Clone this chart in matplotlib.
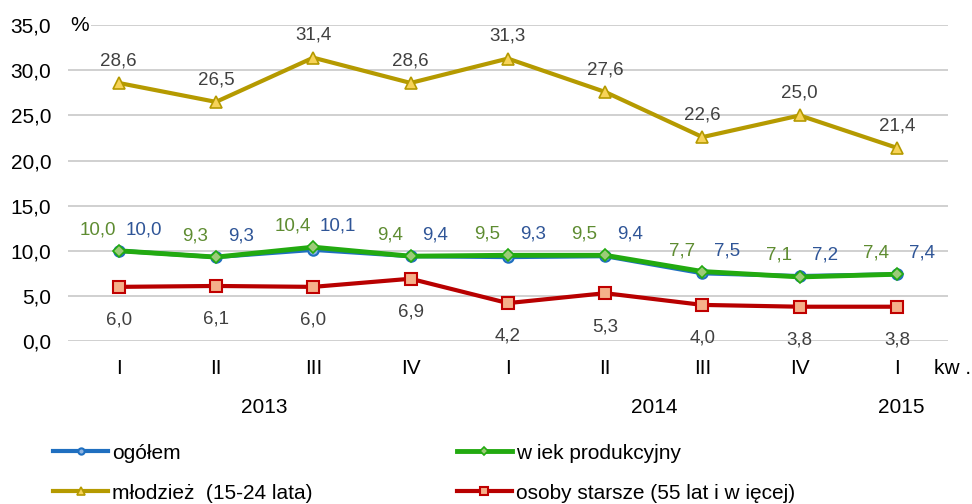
import matplotlib
matplotlib.use("Agg")
import matplotlib.pyplot as plt
from matplotlib.ticker import FuncFormatter

plt.rcParams['font.family'] = ['Liberation Sans', 'DejaVu Sans']

quarters = ["I", "II", "III", "IV", "I", "II", "III", "IV", "I"]
years = ["2013", "2014", "2015"]
ogolem = [10.0, 9.3, 10.1, 9.4, 9.3, 9.4, 7.5, 7.2, 7.4]
wiek_prod = [10.0, 9.3, 10.4, 9.4, 9.5, 9.5, 7.7, 7.1, 7.4]
mlodziez = [28.6, 26.5, 31.4, 28.6, 31.3, 27.6, 22.6, 25.0, 21.4]
starsze = [6.0, 6.1, 6.0, 6.9, 4.2, 5.3, 4.0, 3.8, 3.8]

def pl(v):
    return f"{v:.1f}".replace(".", ",")

fig = plt.figure(figsize=(9.72, 5.04), dpi=100)
ax = fig.add_axes([0.07, 0.3234, 0.905, 0.6266])
x = list(range(len(quarters)))

l_ml, = ax.plot(x, mlodziez, color="#B59A00", lw=3, marker="^", ms=9,
                mfc="#F7D358", mec="#B59A00", mew=1.2, label="młodzież  (15-24 lata)", zorder=3)
l_og, = ax.plot(x, ogolem, color="#1F6FC0", lw=3, marker="o", ms=7.5,
                mfc="#8DB4E2", mec="#1F6FC0", mew=1.5, label="ogółem", zorder=3)
l_wp, = ax.plot(x, wiek_prod, color="#22AA10", lw=3.5, marker="D", ms=6.5,
                mfc="#9CCB78", mec="#22AA10", mew=1.2, label="w iek produkcyjny", zorder=4)
l_st, = ax.plot(x, starsze, color="#B80000", lw=3, marker="s", ms=8.5,
                mfc="#F5B08A", mec="#C00000", mew=1.5, label="osoby starsze (55 lat i w ięcej)", zorder=3)

lab_kw = dict(fontsize=13.5, ha="center", va="center", textcoords="offset points")
for i in x:
    top = max(wiek_prod[i], ogolem[i])
    ax.annotate(pl(mlodziez[i]), (i, mlodziez[i]), xytext=(0, 16), color="#404040", **lab_kw)
    ax.annotate(pl(wiek_prod[i]), (i, top), xytext=(-15, 15), color="#5E8C31", **lab_kw)
    ax.annotate(pl(ogolem[i]), (i, top), xytext=(18, 15), color="#2F5597", **lab_kw)
    ax.annotate(pl(starsze[i]), (i, starsze[i]), xytext=(0, -24), color="#404040", **lab_kw)

ax.set_xlim(-0.52, 8.52)
ax.set_ylim(0, 35)
ax.set_yticks([0, 5, 10, 15, 20, 25, 30, 35])
ax.yaxis.set_major_formatter(FuncFormatter(lambda v, p: pl(v)))
ax.set_xticks(x)
ax.set_xticklabels(quarters)
ax.tick_params(axis="both", length=0, labelsize=15, colors="#000000")
ax.tick_params(axis="x", pad=13)
ax.tick_params(axis="y", pad=12)
ax.grid(axis="y", color="#C8C8C8", lw=1.2)
ax.set_axisbelow(True)
for s in ax.spines.values():
    s.set_visible(False)

ax.text(-0.5, 35, "%", fontsize=15, ha="left", va="center",
        bbox=dict(fc="white", ec="none", pad=2))
ax.text(8.38, -0.088, "kw .", transform=ax.get_xaxis_transform(), fontsize=15,
        ha="left", va="center")

for yr, xp in zip(years, [1.5, 5.5, 8.04]):
    ax.text(xp, -0.209, yr, transform=ax.get_xaxis_transform(), fontsize=15,
            ha="center", va="center")

fig.legend([l_og, l_ml, l_wp, l_st],
           [l_og.get_label(), l_ml.get_label(), l_wp.get_label(), l_st.get_label()],
           loc="upper left", bbox_to_anchor=(0.046, 0.136), ncol=2, frameon=False,
           fontsize=15, columnspacing=6.9, handlelength=2.65, handletextpad=0.2,
           labelspacing=1.0, markerscale=0.6, borderaxespad=0)

fig.savefig("out.png", dpi=100)
